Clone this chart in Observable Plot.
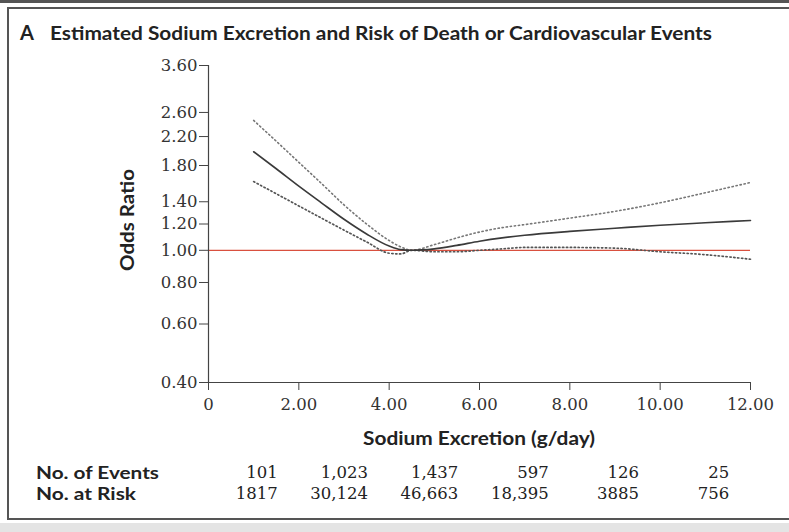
<!DOCTYPE html>
<html>
<head>
<meta charset="utf-8">
<script src="https://cdn.jsdelivr.net/npm/d3@7"></script>
<script src="https://cdn.jsdelivr.net/npm/@observablehq/plot@0.6"></script>
<style>
  html, body { margin: 0; padding: 0; background: #fff; }
  #wrap { position: relative; width: 789px; height: 532px; overflow: hidden; background: #fff; }
  #topband { position: absolute; left: 0; top: 0; width: 789px; height: 3px; background: #555; }
  #bottomband { position: absolute; left: 0; top: 523px; width: 789px; height: 9px; background: #e4e4e4; }
  #box { position: absolute; left: 7px; top: 7px; width: 800px; height: 513px; border: 2px solid #555; box-sizing: border-box; }
  #chart, #overlay { position: absolute; left: 0; top: 0; }
</style>
</head>
<body>
<div id="wrap">
  <div id="topband"></div>
  <div id="bottomband"></div>
  <div id="box"></div>
  <div id="chart"></div>
  <svg id="overlay" width="789" height="532"></svg>
</div>
<script>
// ---- data ----
const sodium = [1, 1.5, 2, 2.5, 3, 3.5, 4, 4.25, 4.5, 5, 5.5, 6, 6.5, 7, 8, 9, 10, 11, 12];
const orMain  = [1.98, 1.76, 1.56, 1.39, 1.24, 1.12, 1.03, 1.005, 1.0, 1.01, 1.035, 1.065, 1.09, 1.11, 1.14, 1.165, 1.19, 1.21, 1.23];
const orUpper = [2.46, 2.13, 1.84, 1.59, 1.37, 1.20, 1.07, 1.025, 1.0, 1.04, 1.09, 1.135, 1.17, 1.195, 1.25, 1.31, 1.39, 1.49, 1.60];
const orLower = [1.61, 1.48, 1.36, 1.25, 1.15, 1.06, 0.98, 0.975, 1.0, 0.99, 0.99, 1.0, 1.01, 1.02, 1.02, 1.015, 0.99, 0.97, 0.94];

const xTicks = [0, 2, 4, 6, 8, 10, 12];
const yTicks = [0.4, 0.6, 0.8, 1.0, 1.2, 1.4, 1.8, 2.2, 2.6, 3.6];
const binEdges = [0, 2, 4, 6, 8, 10, 12];
const eventsLabels = ["101", "1,023", "1,437", "597", "126", "25"];
const riskLabels = ["1817", "30,124", "46,663", "18,395", "3885", "756"];

const titleLetter = "A";
const titleText = "Estimated Sodium Excretion and Risk of Death or Cardiovascular Events";
const yLabel = "Odds Ratio";
const xLabel = "Sodium Excretion (g/day)";
const rowLabels = ["No. of Events", "No. at Risk"];

// ---- derived tables ----
const curve = (ys) => sodium.map((x, i) => ({x, y: ys[i]}));
const binCenters = d3.pairs(binEdges).map(([a, b]) => (a + b) / 2);

const serif = "DejaVu Serif";
const sans = "Lato, 'Open Sans', sans-serif";

const chart = Plot.plot({
  width: 789,
  height: 532,
  marginLeft: 208,
  marginRight: 39,
  marginTop: 65,
  marginBottom: 150,
  style: {fontFamily: serif, fontSize: "16px", color: "#333", background: "transparent", overflow: "visible"},
  x: {domain: [0, 12]},
  y: {type: "log", domain: [0.4, 3.6]},
  marks: [
    Plot.ruleY([1], {x1: 0, x2: 12, stroke: "#d9503f", strokeWidth: 1.3}),
    Plot.line(curve(orUpper), {x: "x", y: "y", curve: "monotone-x", stroke: "#777", strokeWidth: 1.6, strokeDasharray: "1.3 2.8"}),
    Plot.line(curve(orLower), {x: "x", y: "y", curve: "monotone-x", stroke: "#555", strokeWidth: 1.7, strokeDasharray: "1.3 2.6"}),
    Plot.line(curve(orMain), {x: "x", y: "y", curve: "monotone-x", stroke: "#3a3a3a", strokeWidth: 1.6}),
    Plot.ruleX([0], {y1: 0.4, y2: 3.6, stroke: "#444", strokeWidth: 1.2}),
    Plot.ruleY([0.4], {x1: 0, x2: 12, stroke: "#444", strokeWidth: 1.2}),
    Plot.axisY({ticks: yTicks, tickFormat: d => d.toFixed(2), tickSize: 9, tickPadding: 2, label: null, stroke: "#444", fontSize: 16.5}),
    Plot.axisX({ticks: xTicks, tickFormat: d => d === 0 ? "0" : d.toFixed(2), tickSize: 8, tickPadding: 8, label: null, stroke: "#444", fontSize: 16.5}),
    Plot.text(eventsLabels, {x: (d, i) => binCenters[i], frameAnchor: "bottom", dy: 95, dx: 24, textAnchor: "end", fontSize: 16.5, fill: "#222"}),
    Plot.text(riskLabels, {x: (d, i) => binCenters[i], frameAnchor: "bottom", dy: 116, dx: 24, textAnchor: "end", fontSize: 16.5, fill: "#222"})
  ]
});
document.getElementById("chart").appendChild(chart);

// ---- static texts ----
const ov = d3.select("#overlay");
ov.append("text").attr("x", 20).attr("y", 40).attr("font-family", sans).attr("font-weight", 700)
  .attr("font-size", 20).attr("fill", "#222").text(titleLetter);
ov.append("text").attr("x", 50).attr("y", 40).attr("font-family", sans).attr("font-weight", 700)
  .attr("font-size", 19).attr("fill", "#222").attr("textLength", 662).attr("lengthAdjust", "spacingAndGlyphs").text(titleText);
ov.append("text").attr("transform", "translate(134,220) rotate(-90)").attr("text-anchor", "middle")
  .attr("font-family", sans).attr("font-weight", 700).attr("font-size", 18).attr("fill", "#222")
  .attr("textLength", 102).attr("lengthAdjust", "spacingAndGlyphs").text(yLabel);
ov.append("text").attr("x", 479).attr("y", 445).attr("text-anchor", "middle")
  .attr("font-family", sans).attr("font-weight", 700).attr("font-size", 18).attr("fill", "#222")
  .attr("textLength", 232).attr("lengthAdjust", "spacingAndGlyphs").text(xLabel);
const rowY = [479, 500];
const rowW = [123, 100];
rowLabels.forEach((t, i) => {
  ov.append("text").attr("x", 36).attr("y", rowY[i]).attr("font-family", sans).attr("font-weight", 700)
    .attr("font-size", 16.5).attr("fill", "#222").attr("textLength", rowW[i]).attr("lengthAdjust", "spacingAndGlyphs").text(t);
});
</script>
</body>
</html>
